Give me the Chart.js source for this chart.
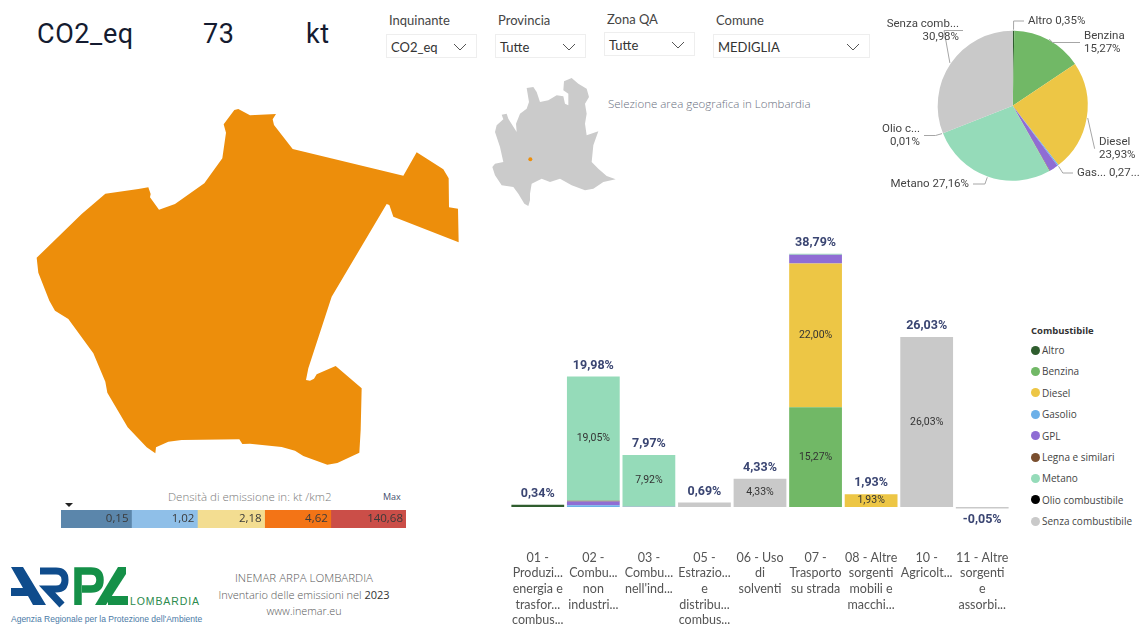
<!DOCTYPE html>
<html lang="it">
<head>
<meta charset="UTF-8">
<title>INEMAR ARPA Lombardia</title>
<script src="https://cdn.jsdelivr.net/npm/chart.js"></script>
<style>
    html, body { margin: 0; width: 1142px; height: 624px; overflow: hidden; background: #fff; }
    body { font-family: "Open Sans", sans-serif; position: relative; }
    canvas, .abs { position: absolute; }
    .abs { white-space: nowrap; line-height: 1; }
    .head { font-family: Roboto, sans-serif; font-size: 27px; font-weight: 400; color: #141b30; top: 21px; letter-spacing: 0.6px; }
    .flabel { font-family: Lato, sans-serif; font-size: 13px; color: #444; }
    .fbox { font-family: Lato, sans-serif; border: 1px solid #eeeeee; box-sizing: border-box; height: 24px; font-size: 13px; color: #333; line-height: 24px; padding-left: 4px; }
    .fbox svg { position: absolute; right: 9px; top: 8px; }
    .foot { color: #5a5a5a; text-align: center; width: 200px; left: 204px; font-weight: 300; }
    .lg { font-size: 10px; color: #444; left: 1042px; }
    .dot { width: 9px; height: 9px; border-radius: 50%; left: 1031px; }
</style>
</head>
<body>
<div class="abs head" style="left:37px">CO2_eq</div>
<div class="abs head" style="left:203px">73</div>
<div class="abs head" style="left:306px">kt</div>

<div id="filters"></div>
<div class="abs" style="left:608px;top:98px;font-size:11.5px;color:#6a7080;font-weight:300">Selezione area geografica in Lombardia</div>

<canvas id="mapChart" width="480" height="390" style="left:0;top:90px"></canvas>
<canvas id="miniMap" width="135" height="140" style="left:485px;top:72px"></canvas>
<canvas id="pieChart" width="272" height="200" style="left:870px;top:0"></canvas>
<canvas id="barChart" width="500" height="408" style="left:510px;top:220px"></canvas>
<canvas id="densityChart" width="345" height="18" style="left:61px;top:510px"></canvas>

<div class="abs" style="left:168px;top:491px;font-size:11.5px;color:#7a7a7a;font-weight:300">Densità di emissione in: kt /km2</div>
<div class="abs" style="left:383px;top:492px;font-size:9px;color:#46506e">Max</div>
<svg class="abs" style="left:65px;top:503px" width="8" height="5"><polygon points="0,0 8,0 4,4" fill="#222"/></svg>

<div id="legend"></div>

<svg class="abs" style="left:0;top:560px" width="135" height="48">
    <polygon points="11,7 23,7 46,45 33,45 28,36 11,36 11,28 23,28" fill="#0f4c8c"/>
    <path d="M40,11 H56 Q65,11 65,20 Q65,29 56,29 H47 L62,45" fill="none" stroke="#0f4c8c" stroke-width="7"/>
    <path d="M78,45 V11 H91 Q100,11 100,20 Q100,29 91,29 H82" fill="none" stroke="#159048" stroke-width="7.5"/>
    <polygon points="118,7 126,7 126,14 106,45 95,45" fill="#159048"/>
    <rect x="108" y="36" width="20" height="9" fill="#159048"/>
</svg>
<div class="abs" style="left:130px;top:596px;font-family:'Liberation Sans';font-size:10.5px;letter-spacing:0.9px;color:#2b8a4d">LOMBARDIA</div>
<div class="abs" style="left:11px;top:615px;font-family:'Liberation Sans';font-size:8.5px;color:#4a7aa6">Agenzia Regionale per la Protezione dell'Ambiente</div>

<div class="abs foot" style="top:572px;font-size:11.5px">INEMAR ARPA LOMBARDIA</div>
<div class="abs foot" style="top:589px;font-size:11px">Inventario delle emissioni nel <span style="color:#333;font-weight:400">2023</span></div>
<div class="abs foot" style="top:606px;font-size:10.8px">www.inemar.eu</div>

<script>
    // Fuels
    const fuelNames = ['Altro', 'Benzina', 'Diesel', 'Gasolio', 'GPL', 'Legna e similari', 'Metano', 'Olio combustibile', 'Senza combustibile'];
    const fuelColors = ['#2f5d2e', '#71b866', '#edc645', '#6cb0e8', '#8f6dd4', '#7a4f2f', '#95dbb9', '#000000', '#c9c9c9'];

    // Bar chart, one array per fuel, one value per macrosector
    const sectorLabels = [
        ['01 -', 'Produzi...', 'energia e', 'trasfor...', 'combus...'],
        ['02 -', 'Combu...', 'non', 'industri...'],
        ['03 -', 'Combu...', "nell'ind..."],
        ['05 -', 'Estrazio...', 'e', 'distribu...', 'combus...'],
        ['06 - Uso', 'di', 'solventi'],
        ['07 -', 'Trasporto', 'su strada'],
        ['08 - Altre', 'sorgenti', 'mobili e', 'macchi...'],
        ['10 -', 'Agricolt...'],
        ['11 - Altre', 'sorgenti', 'e', 'assorbi...']
    ];
    const altroBySector = [0.34, 0, 0.01, 0, 0, 0, 0, 0, 0];
    const benzinaBySector = [0, 0, 0, 0, 0, 15.27, 0, 0, 0];
    const dieselBySector = [0, 0, 0, 0, 0, 22.00, 1.93, 0, 0];
    const gasolioBySector = [0, 0.27, 0, 0, 0, 0, 0, 0, 0];
    const gplBySector = [0, 0.56, 0.03, 0, 0, 1.37, 0, 0, 0];
    const legnaBySector = [0, 0.10, 0, 0, 0, 0, 0, 0, 0];
    const metanoBySector = [0, 19.05, 7.92, 0, 0, 0.15, 0, 0, 0];
    const olioBySector = [0, 0, 0.01, 0, 0, 0, 0, 0, 0];
    const senzaBySector = [null, null, null, 0.69, 4.33, null, null, 26.03, -0.05];
    const sectorTotals = [0.34, 19.98, 7.97, 0.69, 4.33, 38.79, 1.93, 26.03, -0.05];

    // Pie chart
    const pieValues = [0.35, 15.27, 23.93, 0.27, 1.93, 0.10, 27.16, 0.01, 30.98];
    const pieTexts = [
        ['Altro 0,35%'], ['Benzina', '15,27%'], ['Diesel', '23,93%'], ['Gas... 0,27...'], null, null,
        ['Metano 27,16%'], ['Olio c...', '0,01%'], ['Senza comb...', '30,98%']
    ];

    // Density scale
    const densityValues = ['0,15', '1,02', '2,18', '4,62', '140,68'];
    const densityWidths = [70.3, 65.7, 67, 66, 75];
    const densityColors = ['#5b86ab', '#8fbfe8', '#f3dd91', '#f37416', '#cb4e48'];

    // Outlines in zoomed map units
    const comuneOutline = [[110,503],[115,548],[148,632],[165,662],[205,687],[280,790],[316,875],[322,908],[383,1012],[440,1072],[466,1090],[468,1072],[505,1055],[545,1050],[718,1048],[727,1062],[750,1061],[845,1071],[885,1082],[910,1098],[982,1124],[1012,1119],[1078,1088],[1082,1020],[1085,895],[1007,828],[950,853],[942,866],[930,872],[918,870],[925,835],[995,620],[1160,342],[1168,345],[1180,380],[1376,457],[1374,356],[1347,352],[1346,265],[1330,238],[1250,187],[1210,257],[878,177],[822,105],[818,88],[828,72],[750,76],[715,57],[703,60],[671,103],[678,128],[667,205],[613,280],[525,342],[477,359],[450,322],[452,312],[445,292],[415,297],[316,311],[245,372]];
    const lombardiaOutline = [[22,285],[30,275],[55,270],[45,225],[30,180],[35,160],[55,142],[50,128],[65,125],[70,140],[95,180],[93,155],[105,125],[125,110],[132,90],[125,48],[145,45],[155,60],[165,90],[190,85],[215,70],[235,73],[240,95],[250,100],[250,65],[235,55],[237,28],[260,18],[280,35],[305,50],[312,75],[300,95],[305,125],[300,155],[305,190],[340,178],[325,220],[320,270],[340,290],[365,312],[392,322],[355,330],[325,350],[300,355],[260,340],[225,320],[195,330],[170,320],[140,335],[135,365],[135,385],[130,402],[118,395],[100,365],[85,345],[50,340],[30,310]];
    const selectedComune = [[136, 262]];

    // Slicers
    const filterNames = ['Inquinante', 'Provincia', 'Zona QA', 'Comune'];
    const filterValues = ['CO2_eq', 'Tutte', 'Tutte', 'MEDIGLIA'];
    const filterBoxes = [[386, 34, 91, 14], [495, 34, 91, 14], [604, 32, 91, 13], [713, 34, 157, 14]];

    const fmt = v => v.toFixed(2).replace('.', ',') + '%';

    filterNames.forEach((name, i) => {
        const [x, y, w, ly] = filterBoxes[i];
        document.getElementById('filters').insertAdjacentHTML('beforeend',
            `<div class="abs flabel" style="left:${x + 3}px;top:${ly}px">${name}</div>
             <div class="abs fbox" style="left:${x}px;top:${y}px;width:${w}px">${filterValues[i]}
             <svg width="14" height="8"><polyline points="1,1 7,7 13,1" fill="none" stroke="#555" stroke-width="1"/></svg></div>`);
    });

    document.getElementById('legend').innerHTML =
        '<div class="abs" style="left:1031px;top:326px;font-size:9.5px;font-weight:700;color:#333">Combustibile</div>' +
        fuelNames.map((name, i) => {
            const y = 350 + i * 21.4;
            return `<div class="abs dot" style="top:${y - 4.5}px;background:${fuelColors[i]}"></div>
                    <div class="abs lg" style="top:${y - 5}px">${name}</div>`;
        }).join('');

    Chart.defaults.animation = false;
    Chart.defaults.responsive = false;
    Chart.defaults.plugins.legend.display = false;
    Chart.defaults.plugins.tooltip.enabled = false;

    // Fills the points of each dataset as a closed shape
    const polygonPlugin = {
        id: 'polygon',
        beforeDatasetsDraw(chart) {
            const ctx = chart.ctx;
            chart.data.datasets.forEach((ds, i) => {
                if (!ds.polygonColor) return;
                const pts = chart.getDatasetMeta(i).data;
                ctx.beginPath();
                pts.forEach((p, k) => k ? ctx.lineTo(p.x, p.y) : ctx.moveTo(p.x, p.y));
                ctx.closePath();
                ctx.fillStyle = ds.polygonColor;
                ctx.fill();
            });
        }
    };

    function outlineChart(id, outline, color, xMax, yMax, extra) {
        const datasets = [{
            data: outline.map(p => ({ x: p[0], y: p[1] })),
            polygonColor: color,
            pointRadius: 0
        }];
        if (extra) datasets.push(extra);
        new Chart(document.getElementById(id), {
            type: 'scatter',
            data: { datasets },
            plugins: [polygonPlugin],
            options: {
                layout: { padding: 0, autoPadding: false },
                scales: {
                    x: { display: false, min: 0, max: xMax },
                    y: { display: false, min: 0, max: yMax, reverse: true }
                }
            }
        });
    }
    outlineChart('mapChart', comuneOutline, '#ed8e0b', 1440, 1170);
    outlineChart('miniMap', lombardiaOutline, '#cbcbcb', 405, 420, {
        data: selectedComune.map(p => ({ x: p[0], y: p[1] })),
        pointRadius: 2,
        pointBackgroundColor: '#ed8e0b',
        pointBorderWidth: 0
    });

    // Bar chart
    const fuelSeries = [altroBySector, benzinaBySector, dieselBySector, gasolioBySector, gplBySector,
        legnaBySector, metanoBySector, olioBySector, senzaBySector];

    const barLabelsPlugin = {
        id: 'barLabels',
        afterDatasetsDraw(chart) {
            const ctx = chart.ctx;
            const x = chart.scales.x, y = chart.scales.y;
            ctx.save();
            ctx.textAlign = 'center';
            ctx.textBaseline = 'middle';
            ctx.font = '10.5px Roboto';
            ctx.fillStyle = '#333';
            chart.data.datasets.forEach((ds, i) => {
                chart.getDatasetMeta(i).data.forEach((bar, k) => {
                    if (ds.data[k] < 1.9) return;
                    ctx.fillText(fmt(ds.data[k]), bar.x, (bar.y + bar.base) / 2);
                });
            });
            ctx.font = 'bold 12.5px Roboto';
            ctx.fillStyle = '#3a4572';
            sectorTotals.forEach((t, k) => {
                const py = y.getPixelForValue(t);
                ctx.fillText(fmt(t), x.getPixelForValue(k), t < 0 ? py + 13 : py - 11);
            });
            ctx.restore();
        }
    };

    new Chart(document.getElementById('barChart'), {
        type: 'bar',
        data: {
            labels: sectorLabels,
            datasets: fuelNames.map((name, i) => ({
                label: name,
                data: fuelSeries[i],
                backgroundColor: fuelColors[i],
                stack: 'all',
                categoryPercentage: 1,
                barPercentage: 0.95,
                minBarLength: i === 8 ? 1.5 : 0
            }))
        },
        plugins: [barLabelsPlugin],
        options: {
            layout: { padding: 0 },
            scales: {
                x: {
                    stacked: true,
                    grid: { display: false },
                    border: { display: false },
                    ticks: {
                        autoSkip: false, maxRotation: 0, minRotation: 0, padding: 0,
                        color: '#555', font: { family: 'Lato', size: 12.5, lineHeight: 1.25 }
                    }
                },
                y: { stacked: true, display: false, min: -5.35, max: 43.95 }
            }
        }
    });

    // Pie chart
    const pieLeaderPlugin = {
        id: 'pieLeaders',
        afterDatasetsDraw(chart) {
            const ctx = chart.ctx;
            const spots = chart.options.plugins.pieLeaders.spots;
            ctx.save();
            ctx.font = '11.5px Roboto';
            ctx.textBaseline = 'middle';
            chart.getDatasetMeta(0).data.forEach((arc, i) => {
                if (!pieTexts[i]) return;
                const [tx, ty, align] = spots[i];
                const mid = (arc.startAngle + arc.endAngle) / 2;
                const r = arc.outerRadius;
                const side = align === 'right' ? 1 : -1;
                const lineY = ty + (pieTexts[i].length - 1) * 6.5;
                ctx.beginPath();
                ctx.moveTo(arc.x + Math.cos(mid) * (r + 1), arc.y + Math.sin(mid) * (r + 1));
                ctx.lineTo(arc.x + Math.cos(mid) * (r + 8), lineY);
                ctx.lineTo(tx + side * 4, lineY);
                ctx.strokeStyle = '#a6a6a6';
                ctx.lineWidth = 1;
                ctx.stroke();
                ctx.fillStyle = '#444';
                ctx.textAlign = align;
                pieTexts[i].forEach((line, k) => ctx.fillText(line, tx, ty + k * 13));
            });
            ctx.restore();
        }
    };

    new Chart(document.getElementById('pieChart'), {
        type: 'pie',
        data: {
            labels: fuelNames,
            datasets: [{ data: pieValues, backgroundColor: fuelColors, borderWidth: 0 }]
        },
        plugins: [pieLeaderPlugin],
        options: {
            layout: { padding: { left: 67.7, right: 54.3, top: 30.7, bottom: 19.3 } },
            plugins: {
                pieLeaders: {
                    spots: [
                        [158, 21, 'left'], [214, 36, 'left'], [229, 142, 'left'], [207, 173, 'left'],
                        null, null, [99, 184, 'right'], [50, 129, 'right'], [89, 24, 'right']
                    ]
                }
            }
        }
    });

    // Density scale, one stacked horizontal bar
    const densityLabelsPlugin = {
        id: 'densityLabels',
        afterDatasetsDraw(chart) {
            const ctx = chart.ctx;
            ctx.save();
            ctx.font = '11.5px "Open Sans"';
            ctx.fillStyle = '#3a3a3a';
            ctx.textAlign = 'right';
            ctx.textBaseline = 'middle';
            chart.data.datasets.forEach((ds, i) => {
                const bar = chart.getDatasetMeta(i).data[0];
                ctx.fillText(densityValues[i], bar.x - 3, bar.y);
            });
            ctx.restore();
        }
    };

    new Chart(document.getElementById('densityChart'), {
        type: 'bar',
        data: {
            labels: ['densita'],
            datasets: densityWidths.map((w, i) => ({
                data: [w],
                backgroundColor: densityColors[i],
                categoryPercentage: 1,
                barPercentage: 1
            }))
        },
        plugins: [densityLabelsPlugin],
        options: {
            indexAxis: 'y',
            layout: { padding: 0 },
            scales: {
                x: { stacked: true, display: false, min: 0, max: 344 },
                y: { stacked: true, display: false }
            }
        }
    });
</script>
</body>
</html>
